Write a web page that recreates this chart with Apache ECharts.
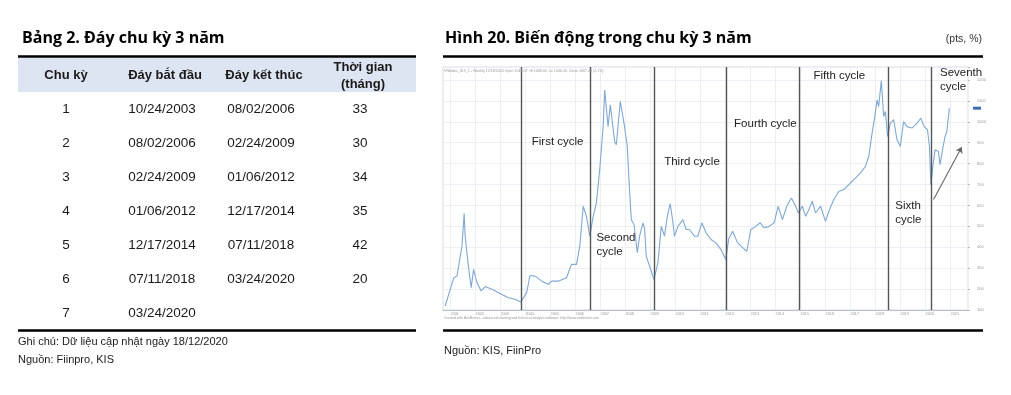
<!DOCTYPE html>
<html><head><meta charset="utf-8">
<script src="https://cdn.jsdelivr.net/npm/echarts@6/dist/echarts.min.js"></script>
<style>html,body{margin:0;padding:0;background:#fff}#c{width:1011px;height:395px}</style>
</head><body><div id="c"></div>
<script>
// ---------- DATA ----------
const tableHeaders = ['Chu kỳ', 'Đáy bắt đầu', 'Đáy kết thúc', 'Thời gian', '(tháng)'];
const cycleNo = ['1', '2', '3', '4', '5', '6', '7'];
const startDates = ['10/24/2003', '08/02/2006', '02/24/2009', '01/06/2012', '12/17/2014', '07/11/2018', '03/24/2020'];
const endDates = ['08/02/2006', '02/24/2009', '01/06/2012', '12/17/2014', '07/11/2018', '03/24/2020', ''];
const durations = ['33', '30', '34', '35', '42', '20', ''];
const cycleNames = ['First cycle', 'Second\ncycle', 'Third cycle', 'Fourth cycle', 'Fifth cycle', 'Sixth\ncycle', 'Seventh\ncycle'];

const dates = ['2000-10-15','2001-02-17','2001-04-05','2001-06-17','2001-07-19','2001-08-03','2001-08-28','2001-09-22','2001-10-30','2001-12-04',
'2002-01-22','2002-03-24','2002-05-22','2002-08-28','2002-12-03','2003-04-27','2003-08-01','2003-10-24','2004-01-18','2004-03-07',
'2004-05-19','2004-08-25','2004-11-29','2005-01-18','2005-04-23','2005-08-22','2005-11-03','2006-01-15','2006-03-04','2006-04-23',
'2006-06-10','2006-07-28','2006-09-16','2006-11-02','2006-12-20','2007-02-08','2007-03-03','2007-04-21','2007-05-24','2007-07-26',
'2007-08-20','2007-10-17','2007-12-10','2008-01-27','2008-03-02','2008-03-26','2008-05-04','2008-06-21','2008-07-25','2008-09-12',
'2008-10-05','2008-10-30','2008-12-17','2009-02-20','2009-04-19','2009-06-06','2009-07-24','2009-09-02','2009-10-15','2009-11-24',
'2009-12-17','2010-02-05','2010-04-18','2010-06-05','2010-07-23','2010-10-04','2010-11-23','2011-01-20','2011-03-23','2011-06-03',
'2011-08-15','2011-10-27','2012-01-04','2012-02-17','2012-04-14','2012-06-26','2012-09-06','2012-11-07','2013-01-05','2013-03-19',
'2013-05-21','2013-07-18','2013-09-29','2013-12-11','2014-02-07','2014-04-11','2014-06-13','2014-08-20','2014-10-22','2014-11-30',
'2015-01-27','2015-03-16','2015-05-03','2015-06-21','2015-08-08','2015-10-20','2016-01-01','2016-02-18','2016-05-01','2016-07-13',
'2016-09-24','2016-12-05','2017-02-16','2017-05-24','2017-08-06','2017-09-23','2017-11-11','2017-12-14','2018-01-23','2018-02-15',
'2018-03-26','2018-04-29','2018-05-24','2018-06-26','2018-08-05','2018-09-22','2018-11-10','2018-12-28','2019-02-14','2019-04-05',
'2019-06-17','2019-08-29','2019-10-23','2019-12-12','2020-01-29','2020-02-27','2020-03-18','2020-04-16','2020-05-19','2020-07-07',
'2020-07-31','2020-09-09','2020-10-12','2020-11-06','2020-12-14'];
const vnIndex = [119,254,262,405,561,453,374,302,207,294,
231,191,212,199,183,159,151,138,183,265,
262,238,223,238,238,254,318,318,405,596,
548,453,548,612,771,977,1152,977,1081,906,
890,1097,994,882,660,532,509,374,453,517,
491,357,310,246,326,500,453,548,609,517,
453,500,532,485,485,453,453,517,469,437,
421,389,342,440,477,421,398,381,485,500,
517,493,500,517,596,532,596,636,596,564,
596,548,580,620,564,596,524,572,628,667,
676,699,723,755,787,834,946,1010,1105,1073,
1197,1025,1049,930,994,1010,914,882,1001,977,
970,994,1017,977,962,882,699,787,866,858,
795,874,930,953,1065];

// ---------- HELPERS ----------
const toIso = s => { const [m, d, y] = s.split('/'); return y + '-' + m + '-' + d; };
const FONT = '"Liberation Sans", Arial, sans-serif';
const TITLE_FONT = '"Open Sans", "Noto Sans", sans-serif';

function txt(text, x, y, size, opts) {
  opts = opts || {};
  return { type: 'text', silent: true, z: 100, style: {
    text: text, x: x, y: y, fill: opts.color || '#1a1a1a',
    font: (opts.weight || 'normal') + ' ' + size + 'px ' + (opts.family || FONT),
    textAlign: opts.align || 'left', textVerticalAlign: 'middle',
    align: opts.align || 'left', verticalAlign: 'middle'
  }};
}
function hline(x1, x2, y, w, c) {
  return { type: 'line', silent: true, z: 100, shape: { x1: x1, y1: y, x2: x2, y2: y }, style: { stroke: c || '#000', lineWidth: w } };
}

// ---------- TABLE (graphic) ----------
const g = [];
g.push(txt('Bảng 2. Đáy chu kỳ 3 năm', 22, 38, 16, { weight: 'bold', family: TITLE_FONT, color: '#000' }));
g.push(hline(18, 416, 56.5, 2.5));
g.push({ type: 'rect', silent: true, z: 90, shape: { x: 18, y: 58, width: 398, height: 34 }, style: { fill: '#dde5f2' } });
const colX = [66, 165, 264, 363];
const dataX = [66, 162, 261, 360];
g.push(txt(tableHeaders[0], colX[0], 75, 13, { weight: 'bold', align: 'center' }));
g.push(txt(tableHeaders[1], colX[1], 75, 13, { weight: 'bold', align: 'center' }));
g.push(txt(tableHeaders[2], colX[2], 75, 13, { weight: 'bold', align: 'center' }));
g.push(txt(tableHeaders[3], colX[3], 67, 13, { weight: 'bold', align: 'center' }));
g.push(txt(tableHeaders[4], colX[3], 84, 13, { weight: 'bold', align: 'center' }));
cycleNo.forEach((n, i) => {
  const y = 109.5 + i * 34;
  g.push(txt(n, dataX[0], y, 13.5, { align: 'center' }));
  g.push(txt(startDates[i], dataX[1], y, 13.5, { align: 'center' }));
  if (endDates[i]) g.push(txt(endDates[i], dataX[2], y, 13.5, { align: 'center' }));
  if (durations[i]) g.push(txt(durations[i], dataX[3], y, 13.5, { align: 'center' }));
});
g.push(hline(18, 416, 330.5, 2.5));
g.push(txt('Ghi chú: Dữ liệu cập nhật ngày 18/12/2020', 18, 342, 11));
g.push(txt('Nguồn: Fiinpro, KIS', 18, 360, 11));

// ---------- RIGHT PANEL ----------
g.push(txt('Hình 20. Biến động trong chu kỳ 3 năm', 445, 38, 16, { weight: 'bold', family: TITLE_FONT, color: '#000' }));
g.push(txt('(pts, %)', 982, 39, 10.5, { align: 'right', color: '#333' }));
g.push(hline(443, 983, 56.5, 2.5));
g.push(hline(443, 983, 330.5, 2.5));
g.push(txt('Nguồn: KIS, FiinPro', 444, 351, 11));
g.push(txt('VNIndex_IDX_1 - Weekly 12/18/2020 Open 1046.07, Hi 1068.05, Lo 1046.03, Close 1067.48 (2.1%)', 444, 70.5, 3.6, { color: '#999' }));
g.push(txt('Created with AmiBroker - advanced charting and technical analysis software. http://www.amibroker.com', 444, 318.5, 3.4, { color: '#999' }));

const seriesData = dates.map((d, i) => [d, vnIndex[i]]);
const cycleStartsIso = startDates.map(toIso);

// annotation anchors for cycle names (in data units)
const nameAnchors = [
  ['2004-04-01', 904], ['2006-11-02', 413], ['2009-07-19', 809], ['2012-05-05', 990],
  ['2015-07-08', 1219], ['2018-10-15', 566], ['2020-07-30', 1200]
];

const chart = echarts.init(document.getElementById('c'), null, { renderer: 'canvas' });
chart.setOption({
  animation: false,
  backgroundColor: '#fff',
  graphic: g,
  grid: { left: 443, right: 43, top: 67, bottom: 85, show: true, borderColor: '#d6dbe2', borderWidth: 1 },
  xAxis: {
    type: 'time', min: '2000-09-13', max: '2021-09-12',
    minInterval: 365 * 86400000, maxInterval: 366 * 86400000,
    axisLine: { show: true, lineStyle: { color: '#b8c0cc', width: 1 } },
    axisTick: { show: false },
    splitLine: { show: true, lineStyle: { color: '#eceff3', width: 1 } },
    axisLabel: {
      show: true, fontSize: 3.8, color: '#999', margin: 2, align: 'left',
      showMinLabel: false, showMaxLabel: false,
      formatter: v => { const d = new Date(v); return (d.getMonth() === 0 && d.getDate() === 1) ? String(d.getFullYear()) : ''; }
    }
  },
  yAxis: {
    type: 'value', position: 'right', min: 100, max: 1262, interval: 100,
    axisLine: { show: false },
    axisTick: { show: true, length: 2, lineStyle: { color: '#bbb' } },
    splitLine: { show: true, lineStyle: { color: '#eceff3', width: 1 } },
    axisLabel: { fontSize: 4, color: '#999', margin: 9, formatter: v => (v % 100 === 0 ? String(v) : '') }
  },
  series: [
    {
      type: 'line', data: seriesData, showSymbol: false, symbol: 'none',
      lineStyle: { color: '#7fa8d2', width: 1.1 },
      markLine: {
        silent: true, symbol: ['none', 'none'], animation: false,
        label: { show: false },
        lineStyle: { color: '#555', width: 1.4, type: 'solid' },
        data: cycleStartsIso.map(d => ({ xAxis: d }))
      },
      markPoint: {
        silent: true, animation: false,
        data: cycleNames.map((n, i) => ({
          coord: nameAnchors[i], symbol: 'circle', symbolSize: 0,
          label: { show: true, formatter: n, position: 'inside', align: 'left', verticalAlign: 'middle',
            fontFamily: FONT, fontSize: 11.5, color: '#222', lineHeight: 14 }
        })).concat([{
          coord: ['2021-09-12', vnIndex[vnIndex.length - 1]], symbol: 'rect', symbolSize: [8, 3], symbolOffset: [9, 0],
          itemStyle: { color: '#3d6db5' }, label: { show: false }
        }])
      }
    },
    {
      type: 'line', data: [], silent: true,
      markLine: {
        silent: true, animation: false, symbol: ['none', 'arrow'], symbolSize: 6,
        label: { show: false },
        lineStyle: { color: '#666', width: 1.1, type: 'solid' },
        data: [[{ coord: ['2020-04-27', 628] }, { coord: ['2021-06-13', 879] }]]
      }
    }
  ]
});
</script></body></html>
